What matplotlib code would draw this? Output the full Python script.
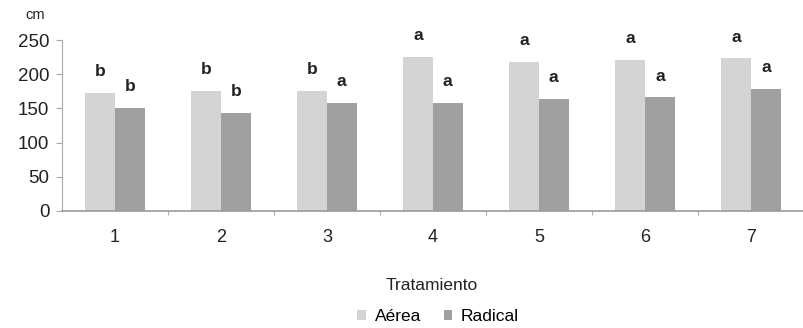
import numpy as np
import matplotlib.pyplot as plt

plt.rcParams['font.family'] = ['Liberation Sans', 'DejaVu Sans']

# data
tratamientos = ['1', '2', '3', '4', '5', '6', '7']
aerea = [172, 175, 175, 225, 218, 221, 223]
radical = [150, 143, 158, 158, 164, 166, 178]
letras_aerea = ['b', 'b', 'b', 'a', 'a', 'a', 'a']
letras_radical = ['b', 'b', 'a', 'a', 'a', 'a', 'a']

fig = plt.figure(figsize=(8.04, 3.28), dpi=100)
ax = fig.add_axes([0.077, 0.357, 0.923, 0.521])

x = np.arange(len(tratamientos))
w = 0.28
b1 = ax.bar(x - w/2, aerea, w, color='#d4d4d4', label='Aérea')
b2 = ax.bar(x + w/2, radical, w, color='#a0a0a0', label='Radical')

for i in range(len(x)):
    ax.annotate(letras_aerea[i], (x[i] - w/2, aerea[i]), xytext=(0, 10),
                textcoords='offset points', ha='center', va='bottom',
                fontsize=12.5, fontweight='bold', color='#222222')
    ax.annotate(letras_radical[i], (x[i] + w/2, radical[i]), xytext=(0, 10),
                textcoords='offset points', ha='center', va='bottom',
                fontsize=12.5, fontweight='bold', color='#222222')

ax.set_xlim(-0.5, len(x) - 0.5)
ax.set_ylim(0, 250)
ax.set_yticks([0, 50, 100, 150, 200, 250])
ax.set_xticks(x)
ax.set_xticklabels(tratamientos)
ax.set_xticks(np.arange(0.5, len(x) - 0.5, 1), minor=True)
ax.tick_params(axis='x', which='major', length=0, pad=13, labelsize=13, labelcolor='#222222')
ax.tick_params(axis='x', which='minor', length=3, color='#999999')
ax.tick_params(axis='y', length=4, color='#aaaaaa', labelsize=13.5, labelcolor='#222222', pad=5)

for s in ['top', 'right']:
    ax.spines[s].set_visible(False)
ax.spines['left'].set_color('#aaaaaa')
ax.spines['bottom'].set_color('#999999')
ax.spines['bottom'].set_linewidth(1.2)

fig.text(0.031, 0.955, 'cm', fontsize=10.5, color='#222222', ha='left', va='center')
fig.text(0.537, 0.13, 'Tratamiento', fontsize=12.5, color='#222222', ha='center', va='center')
fig.legend(handles=[b1, b2], loc='center', bbox_to_anchor=(0.545, 0.035), ncol=2,
           frameon=False, fontsize=12.5, handlelength=0.5, handleheight=0.5,
           columnspacing=1.3, handletextpad=0.5)

fig.savefig('out.png')
